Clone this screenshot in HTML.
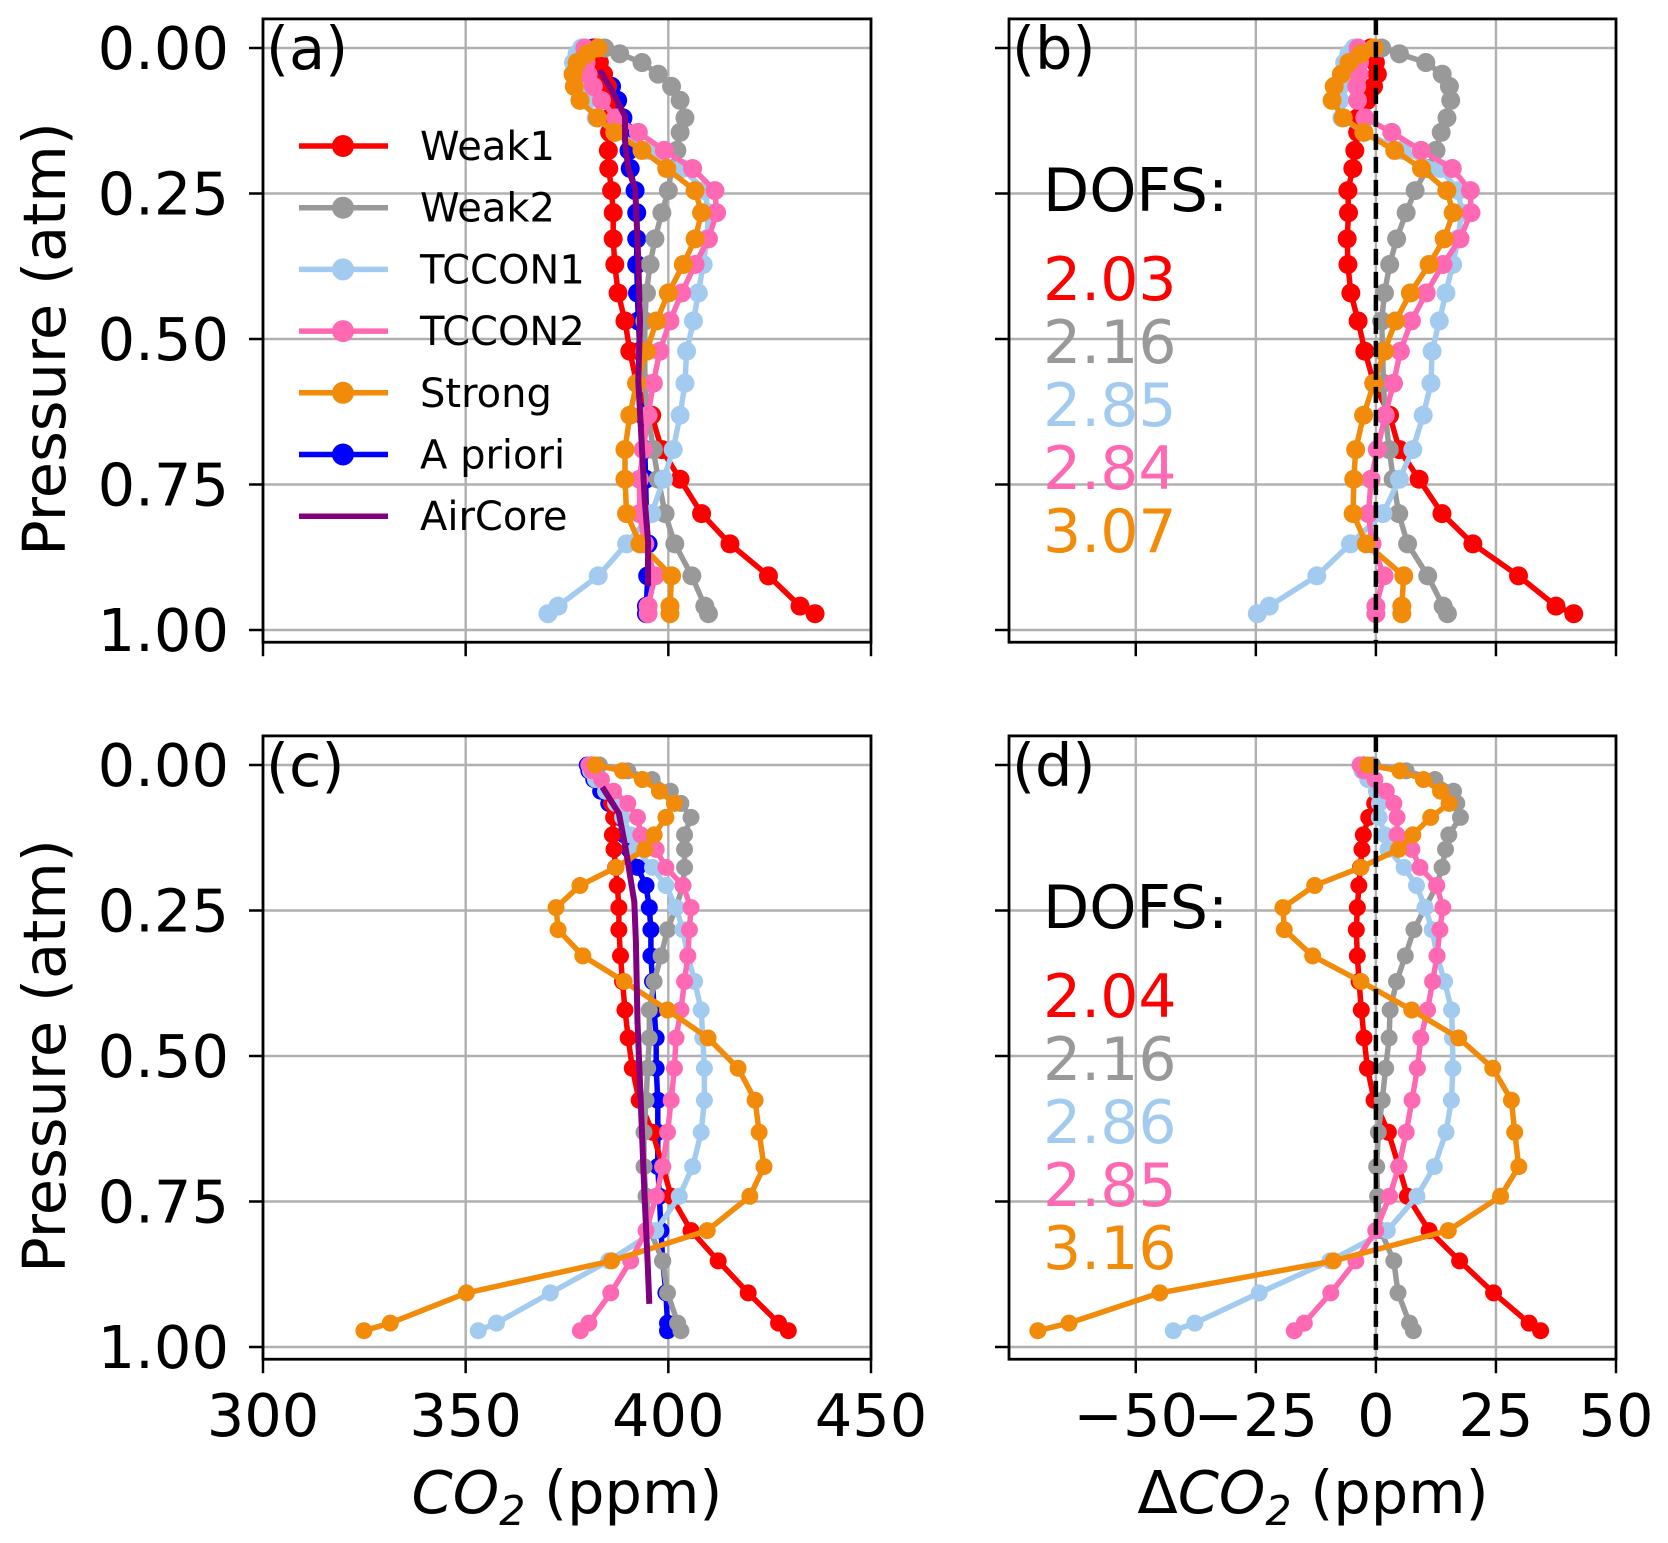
<!DOCTYPE html>
<html><head><meta charset="utf-8">
<style>
html,body{margin:0;padding:0;background:#fff;}
svg{display:block;font-family:"DejaVu Sans","Liberation Sans",sans-serif;}
</style></head>
<body>
<svg id="fig" width="1668" height="1543" viewBox="0 0 1668 1543" xmlns="http://www.w3.org/2000/svg"></svg>
<script>
// ---- data ----
const levels = [0,0.01,0.025,0.045,0.066,0.09,0.12,0.145,0.176,0.207,0.245,0.283,0.328,0.372,0.421,0.469,0.521,0.576,0.631,0.69,0.741,0.80,0.852,0.907,0.959,0.972];
const seriesNames = ["Weak1","Weak2","TCCON1","TCCON2","Strong","A priori","AirCore"];
// panel (a)
const aWeak1  = [382,382.5,383,384,385,385.5,385.5,385.5,385.2,385.3,386,386.4,386.4,386.8,387.6,389.3,390.5,392.2,395.9,398.4,402.9,408.2,415.2,424.7,432.5,436.2];
const aWeak2  = [384.3,388,393.5,397.5,400.8,402.9,404.1,402.9,402.1,400.8,400,398.4,396.7,395.5,394.6,394.2,394.2,394.2,395,396.3,397.5,399.2,401.6,405.8,409,409.9];
const aTccon1 = [378.6,377.5,376.6,377,378,379.8,382.2,386.8,395,403.5,409,409.9,409.5,408.6,407.4,406.2,404.5,404.1,402.9,401.2,398.8,395.9,389.7,382.7,372.8,370.3];
const aTccon2 = [379.4,379.5,379.7,380.2,381.5,383.5,387,392.6,399,406,411.5,411.9,409.9,406.6,403.3,400.4,397.9,396.3,395,393.8,392.9,392.9,394.2,396.7,395,395];
const aStrong = [382.7,380,377.5,376.5,376.8,378.2,382.5,386.8,393.5,399.6,406.6,408.2,406.6,403.7,400,397.1,394.6,392.2,390.5,389.3,389.3,389.7,393,400.8,400.4,400.4];
const aPrior  = [381.5,381.8,382.3,384,386,387.5,388.8,389.8,390.3,390.6,391.8,392.2,392.2,392.2,392.4,392.6,393,393.4,393.8,394.2,394.4,394.6,395,394.9,394.6,394.6];
const aAirP   = [0.038,0.072,0.117,0.159,0.207,0.241,0.297,0.365,0.469,0.572,0.676,0.779,0.848,0.924];
const aAirV   = [383.1,386,389.3,389.3,390.1,391.8,392.2,392.6,393,392.6,393.4,394.2,395,395];
// panel (c)
const cWeak1  = [381,382,383,384.5,386,386.5,386.2,386.6,387,387.4,387.8,387.8,388.2,388.7,389.3,390.1,391.1,392.8,396.1,398.6,400.7,405.6,412.3,419.7,427.2,429.6];
const cWeak2  = [383,390,396,400.5,403.1,405.6,404,404,404,403.6,401.9,399.8,398.2,396.5,395.3,395.3,394.9,394.5,394,394,394.5,395.5,398.6,399.8,402.3,403.1];
const cTccon1 = [380.4,380.8,382,384.5,387,388.7,390.7,392,396.1,399.4,401.9,403.6,404.8,406.5,408.1,408.5,408.9,408.9,408.1,406,402.7,396.9,385.3,370.9,357.6,353.1];
const cTccon2 = [380.4,381.2,383.5,386.5,390,392.4,393.2,397,399.4,403.6,405.6,405.2,404.8,404,403.1,401.9,401.5,400.7,399.8,398.6,397,394.5,390.7,385.8,380.4,378.3];
const cStrong = [382,388.7,393.6,397.8,401.5,399.4,396.5,394.2,387.1,378.2,372.3,372.8,378.9,389.1,399.8,409.8,417.2,421.4,422.4,423.6,420.1,409.6,386,350.2,331.4,324.9];
const cPrior  = [380,380.4,381.6,383.3,385.3,387.8,389.1,390.3,392.4,394.5,395.3,395.7,395.7,396.1,396.5,397,397,397.4,397.4,397.4,397.8,398.2,398.6,399.4,399.8,399.8];
const cAirP   = [0.038,0.083,0.145,0.235,0.304,0.442,0.58,0.719,0.857,0.926];
const cAirV   = [383.7,387.8,389.5,391.6,392,392.4,393.2,394,394.9,395.3];
const dofsTop = ["2.03","2.16","2.85","2.84","3.07"];
const dofsBot = ["2.04","2.16","2.86","2.85","3.16"];
const xTicksAbs = [300,350,400,450];
const xTicksDelta = [-50,-25,0,25,50];
const yTicks = [0,0.25,0.5,0.75,1.0];

const colors = ["#ff0000","#999999","#a3cbf0","#ff69b4","#f28a0a","#0000ff","#800080"];
const NS = "http://www.w3.org/2000/svg";
const svg = document.getElementById("fig");
function mk(tag, attrs, parent){
  const e = document.createElementNS(NS, tag);
  for (const k in attrs) e.setAttribute(k, attrs[k]);
  (parent||svg).appendChild(e);
  return e;
}
function interp(p, P, V){
  if (p <= P[0]) return V[0];
  if (p >= P[P.length-1]) return V[V.length-1];
  for (let i=0;i<P.length-1;i++){
    if (p>=P[i] && p<=P[i+1]){ const t=(p-P[i])/(P[i+1]-P[i]); return V[i]+t*(V[i+1]-V[i]); }
  }
}
function makePanel(cfg){
  const sx = v => cfg.x0 + (v-cfg.xmin)/(cfg.xmax-cfg.xmin)*(cfg.x1-cfg.x0);
  const sy = p => cfg.y0 + p*(cfg.y1-cfg.y0);
  const g = mk("g",{});
  
  
  const ft = sy(-0.05), fb = sy(1.021);
  cfg.xticks.forEach(t=>{
    const l = mk("line",{x1:sx(t),x2:sx(t),y1:ft,y2:fb,stroke:"#b0b0b0","stroke-width":2.4},g);
    
    
  });
  yTicks.forEach(t=>{
    const l = mk("line",{x1:cfg.x0,x2:cfg.x1,y1:sy(t),y2:sy(t),stroke:"#b0b0b0","stroke-width":2.4},g);
    
    
  });
  return {g,sx,sy,ft,fb};
}
function finishPanel(cfg, P){
  const {g,sx,sy,ft,fb} = P;
  const fr = mk("rect",{x:cfg.x0,y:ft,width:cfg.x1-cfg.x0,height:fb-ft,fill:"none",stroke:"#000","stroke-width":2.8},g);
  
  
  yTicks.forEach(t=>{
    mk("line",{x1:cfg.x0-14,x2:cfg.x0,y1:sy(t),y2:sy(t),stroke:"#000","stroke-width":2.5},g);
    if (cfg.ylabels){
      const tx = mk("text",{x:cfg.x0-34,y:sy(t)+21,"text-anchor":"end","font-size":59},g);
      tx.textContent = t.toFixed(2);
      
      
    }
  });
  cfg.xticks.forEach(t=>{
    mk("line",{x1:sx(t),x2:sx(t),y1:fb,y2:fb+14,stroke:"#000","stroke-width":2.5},g);
    if (cfg.xlabels){
      const tx = mk("text",{x:sx(t),y:fb+77,"text-anchor":"middle","font-size":59},g);
      tx.textContent = t<0 ? "\u2212"+Math.abs(t) : String(t);
      
      
    }
  });
  const lab = mk("text",{x:cfg.x0+3,y:sy(0)+21,"font-size":59},g);
  lab.textContent = cfg.letter;
  
  
}
function drawSeries(P, vals, color, r, name){
  const pts = levels.map((p,i)=>P.sx(vals[i]).toFixed(1)+","+P.sy(p).toFixed(1)).join(" ");
  const sg = mk("g",{},P.g);
  
  
  mk("polyline",{points:pts,fill:"none",stroke:color,"stroke-width":5.5,"stroke-linejoin":"round"},sg);
  levels.forEach((p,i)=>{
    const c = mk("circle",{cx:P.sx(vals[i]),cy:P.sy(p),r:r,fill:color},sg);
    
    
  });
}
function drawLine(P, Ps, Vs, color, name){
  const pts = Ps.map((p,i)=>P.sx(Vs[i]).toFixed(1)+","+P.sy(p).toFixed(1)).join(" ");
  const l = mk("polyline",{points:pts,fill:"none",stroke:color,"stroke-width":6,"stroke-linejoin":"round"},P.g);
  
  
}
function absPanel(cfg, sets, prior, airP, airV, r){
  const P = makePanel(cfg);
  drawSeries(P, prior, colors[5], r, "a-priori-series");
  const nm=["weak1-series","weak2-series","tccon1-series","tccon2-series","strong-series"];
  [0,1,2,3,4].forEach(i=>drawSeries(P, sets[i], colors[i], r, nm[i]));
  drawLine(P, airP, airV, colors[6], "aircore-line");
  finishPanel(cfg, P);
  return P;
}
function deltaPanel(cfg, sets, airP, airV, r, dofs, dofsY){
  const P = makePanel(cfg);
  const nm=["weak1-delta","weak2-delta","tccon1-delta","tccon2-delta","strong-delta"];
  [0,1,2,3,4].forEach(i=>{
    const d = levels.map((p,k)=>sets[i][k]-interp(p,airP,airV));
    drawSeries(P, d, colors[i], r, nm[i]);
  });
  const z = mk("line",{x1:P.sx(0),x2:P.sx(0),y1:P.ft,y2:P.fb,stroke:"#000","stroke-width":4.5,"stroke-dasharray":"16,7"},P.g);
  
  
  const t = mk("text",{x:1043,y:dofsY,"font-size":60},P.g);
  t.textContent="DOFS:";
  
  
  dofs.forEach((v,i)=>{
    const tx = mk("text",{x:1043,y:dofsY+89+i*63,"font-size":60,fill:colors[i]},P.g);
    tx.textContent=v;
    
    
  });
  finishPanel(cfg, P);
}
const cfgA={name:"panel-a",letter:"(a)",x0:263,x1:871,xmin:300,xmax:450,y0:48,y1:630,xticks:xTicksAbs,ylabels:true,xlabels:false};
const cfgB={name:"panel-b",letter:"(b)",x0:1009,x1:1616,xmin:-76.4,xmax:50,y0:48,y1:630,xticks:xTicksDelta,ylabels:false,xlabels:false};
const cfgC={name:"panel-c",letter:"(c)",x0:263,x1:871,xmin:300,xmax:450,y0:765,y1:1347,xticks:xTicksAbs,ylabels:true,xlabels:true};
const cfgD={name:"panel-d",letter:"(d)",x0:1009,x1:1616,xmin:-76.4,xmax:50,y0:765,y1:1347,xticks:xTicksDelta,ylabels:false,xlabels:true};
const setsA=[aWeak1,aWeak2,aTccon1,aTccon2,aStrong];
const setsC=[cWeak1,cWeak2,cTccon1,cTccon2,cStrong];
absPanel(cfgA,setsA,aPrior,aAirP,aAirV,9.5);
deltaPanel(cfgB,setsA,aAirP,aAirV,9.5,dofsTop,211);
absPanel(cfgC,setsC,cPrior,cAirP,cAirV,8.5);
deltaPanel(cfgD,setsC,cAirP,cAirV,8.5,dofsBot,928);

// legend
const lg = mk("g",{});


seriesNames.forEach((n,i)=>{
  const y = 146 + i*61.7;
  const e = mk("g",{},lg);
  
  
  mk("line",{x1:299,x2:388,y1:y,y2:y,stroke:colors[i],"stroke-width":5.5},e);
  if (i<6) mk("circle",{cx:343,cy:y,r:11,fill:colors[i]},e);
  const t = mk("text",{x:420,y:y+14,"font-size":40},e);
  t.textContent=n;
});
// axis titles
[339,1056].forEach(cy=>{
  const t = mk("text",{x:0,y:0,"font-size":59,"text-anchor":"middle",transform:`translate(65,${cy}) rotate(-90)`});
  t.textContent="Pressure (atm)";
  
  
});
const xt1 = mk("text",{x:567,y:1513,"font-size":59,"text-anchor":"middle"});
xt1.innerHTML='<tspan font-style="italic">CO</tspan><tspan font-size="41" dy="12" font-style="italic">2</tspan><tspan dy="-12"> (ppm)</tspan>';


const xt2 = mk("text",{x:1313,y:1513,"font-size":59,"text-anchor":"middle"});
xt2.innerHTML='<tspan>\u0394</tspan><tspan font-style="italic">CO</tspan><tspan font-size="41" dy="12" font-style="italic">2</tspan><tspan dy="-12"> (ppm)</tspan>';


</script>
</body></html>
